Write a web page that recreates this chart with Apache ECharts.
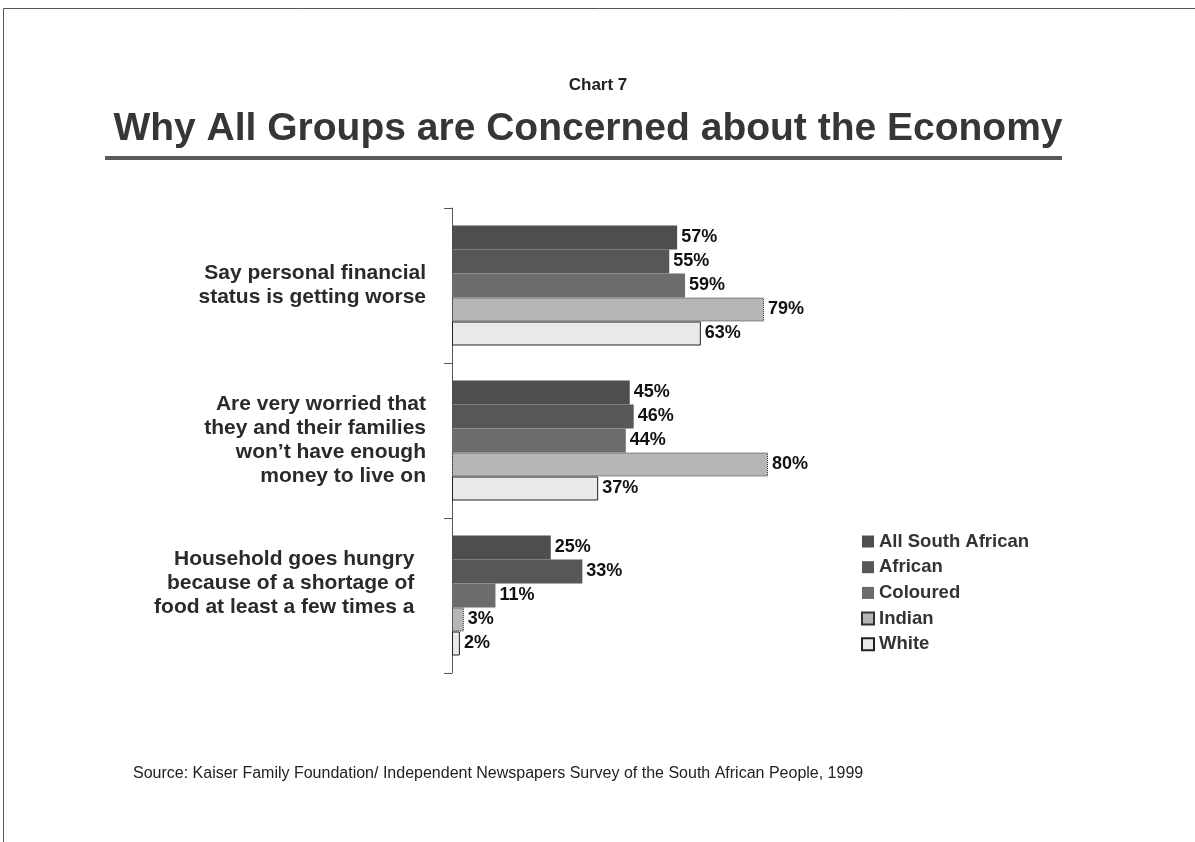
<!DOCTYPE html>
<html>
<head>
<meta charset="utf-8">
<script src="https://cdn.jsdelivr.net/npm/echarts@6/dist/echarts.min.js"></script>
<style>
  html, body { margin: 0; padding: 0; background: #fff; }
  #chart { width: 1195px; height: 842px; }
</style>
</head>
<body>
<div id="chart"></div>
<script>
// Survey statements (top to bottom)
const categories = [
  'Say personal financial\nstatus is getting worse',
  'Are very worried that\nthey and their families\nwon\u2019t have enough\nmoney to live on',
  'Household goes hungry\nbecause of a shortage of\nfood at least a few times a'
];

// Percentages per population group, one value per statement
const groups = ['All South African', 'African', 'Coloured', 'Indian', 'White'];
const allSouthAfrican = [57, 45, 25];
const african = [55, 46, 33];
const coloured = [59, 44, 11];
const indian = [79, 80, 3];
const white = [63, 37, 2];

const seriesValues = [allSouthAfrican, african, coloured, indian, white];

const FONT = 'Arial, "Liberation Sans", Helvetica, sans-serif';

const barStyles = [
  { color: '#4e4e4e' },
  { color: '#575757' },
  { color: '#6c6c6c' },
  { color: '#b6b6b6', borderColor: '#333', borderWidth: 1, borderType: 'dotted' },
  { color: '#e9e9e9', borderColor: '#222', borderWidth: 1 }
];

const chart = echarts.init(document.getElementById('chart'), null, { renderer: 'canvas' });

const series = groups.map((name, i) => ({
  name: name,
  type: 'bar',
  data: seriesValues[i],
  barWidth: 24,
  barGap: '0%',
  itemStyle: barStyles[i],
  label: {
    show: true,
    position: 'right',
    distance: 4,
    formatter: '{c}%',
    fontFamily: FONT,
    fontWeight: 'bold',
    fontSize: 18,
    color: '#111'
  },
  emphasis: { disabled: true },
  animation: false
}));

chart.setOption({
  backgroundColor: '#ffffff',
  animation: false,
  title: [
    {
      text: 'Chart 7',
      left: 598,
      top: 77,
      padding: 0,
      textAlign: 'center',
      textStyle: { fontFamily: FONT, fontWeight: 'bold', fontSize: 17, color: '#222' }
    },
    {
      text: 'Why All Groups are Concerned about the Economy',
      left: 588,
      top: 110,
      padding: 0,
      textAlign: 'center',
      textStyle: { fontFamily: FONT, fontWeight: 'bold', fontSize: 39, color: '#363636' }
    },
    {
      text: 'Source: Kaiser Family Foundation/ Independent Newspapers Survey of the South African People, 1999',
      left: 133,
      top: 766,
      padding: 0,
      textStyle: { fontFamily: FONT, fontWeight: 'normal', fontSize: 16, color: '#222' }
    }
  ],
  graphic: [
    // page frame (top and left edges)
    { type: 'line', shape: { x1: 3.5, y1: 8.5, x2: 1195, y2: 8.5 }, style: { stroke: '#555', lineWidth: 1 }, silent: true },
    { type: 'line', shape: { x1: 3.5, y1: 8.5, x2: 3.5, y2: 842 }, style: { stroke: '#555', lineWidth: 1 }, silent: true },
    // rule under the heading
    { type: 'line', shape: { x1: 105, y1: 158, x2: 1062, y2: 158 }, style: { stroke: '#5a5a5a', lineWidth: 4 }, silent: true }
  ],
  legend: {
    data: groups,
    orient: 'vertical',
    left: 856,
    top: 527,
    padding: 5,
    itemWidth: 12,
    itemHeight: 12,
    itemGap: 6.7,
    icon: 'rect',
    textStyle: { fontFamily: FONT, fontWeight: 'bold', fontSize: 18.5, color: '#333', padding: [0, 0, 0, 0] },
    selectedMode: false
  },
  grid: { left: 452, right: 348, top: 208, bottom: 169, containLabel: false },
  xAxis: {
    type: 'value',
    min: 0,
    max: 100,
    show: false
  },
  yAxis: {
    type: 'category',
    data: categories,
    inverse: true,
    axisLine: { show: true, lineStyle: { color: '#555', width: 1 } },
    axisTick: { show: true, length: 8, lineStyle: { color: '#555' } },
    axisLabel: {
      margin: 26,
      fontFamily: FONT,
      fontWeight: 'bold',
      fontSize: 21,
      lineHeight: 24,
      color: '#2a2a2a',
      align: 'right',
      // last statement sits a little higher and further left
      formatter: (v, idx) => idx === 2 ? v.split('\n').map(s => s + '  ').join('\n') + '\n ' : v
    },
    splitLine: { show: false }
  },
  series: series
});
</script>
</body>
</html>
